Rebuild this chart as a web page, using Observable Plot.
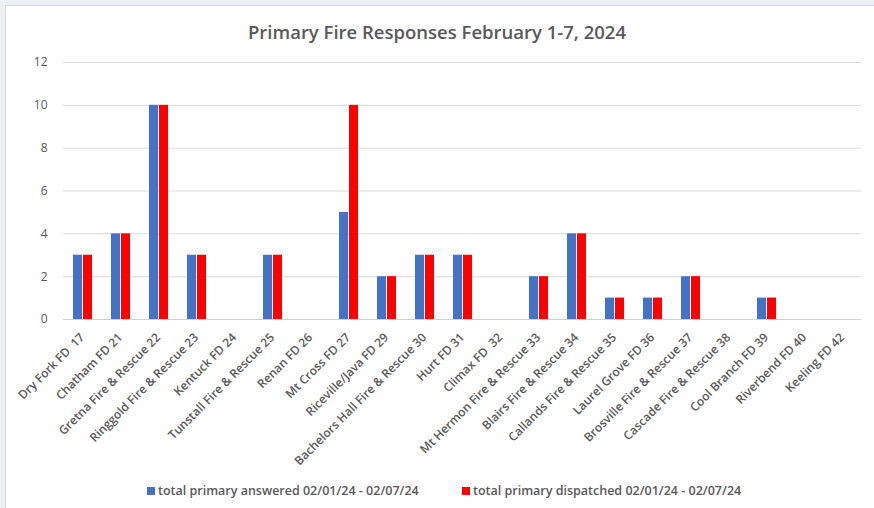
<!DOCTYPE html>
<html>
<head>
<meta charset="utf-8">
<script src="https://cdn.jsdelivr.net/npm/d3@7"></script>
<script src="https://cdn.jsdelivr.net/npm/@observablehq/plot@0.6"></script>
<style>
  html, body { margin: 0; padding: 0; background: #eceff3; }
  #wrap { position: relative; width: 874px; height: 508px; overflow: hidden; }
  #card { position: absolute; left: 5px; top: 5px; width: 869px; height: 503px; background: #fff; border-left: 1px solid #d6d9de; border-top: 1px solid #d6d9de; }
  #title { position: absolute; left: 0; top: 19px; width: 874px; text-align: center; font-family: "Open Sans", sans-serif; font-weight: 600; font-size: 18.5px; color: #595959; }
  #chart { position: absolute; left: 0; top: 0; }
  #legend { position: absolute; top: 482px; left: 0; width: 874px; font-family: "Open Sans", sans-serif; font-weight: 600; font-size: 12.5px; color: #595959; }
  .item { position: absolute; white-space: nowrap; }
  .sw { display: inline-block; width: 8px; height: 8px; margin-right: 3px; }
</style>
</head>
<body>
<div id="wrap">
  <div id="card"></div>
  <div id="chart"></div>
  <div id="title">Primary Fire Responses February 1-7, 2024</div>
  <div id="legend"></div>
</div>
<script>
const categories = [
  "Dry Fork FD  17", "Chatham FD 21", "Gretna Fire & Rescue 22", "Ringgold Fire & Rescue 23",
  "Kentuck FD 24", "Tunstall Fire & Rescue 25", "Renan FD 26", "Mt Cross FD 27",
  "Riceville/Java FD 29", "Bachelors Hall Fire & Rescue 30", "Hurt FD 31", "Climax FD  32",
  "Mt Hermon Fire & Rescue 33", "Blairs Fire & Rescue 34", "Callands Fire & Rescue 35",
  "Laurel Grove FD 36", "Brosville Fire & Rescue 37", "Cascade Fire & Rescue 38",
  "Cool Branch FD 39", "Riverbend FD 40", "Keeling FD 42"
];
const answered   = [3, 4, 10, 3, 0, 3, 0, 5, 2, 3, 3, 0, 2, 4, 1, 1, 2, 0, 1, 0, 0];
const dispatched = [3, 4, 10, 3, 0, 3, 0, 10, 2, 3, 3, 0, 2, 4, 1, 1, 2, 0, 1, 0, 0];
const seriesNames = ["total primary answered 02/01/24 - 02/07/24", "total primary dispatched 02/01/24 - 02/07/24"];
const seriesColors = ["#4472C4", "#FF0000"];
const yTicks = [0, 2, 4, 6, 8, 10, 12];

const data = [];
categories.forEach((c, i) => {
  data.push({cat: c, series: seriesNames[0], value: answered[i]});
  data.push({cat: c, series: seriesNames[1], value: dispatched[i]});
});

const chart = Plot.plot({
  width: 874,
  height: 508,
  marginTop: 62,
  marginBottom: 189,
  marginLeft: 62,
  marginRight: 12,
  style: {background: "transparent", fontFamily: "Open Sans, sans-serif", fontSize: "12px", color: "#595959"},
  fx: {domain: categories, padding: 0, label: null, axis: null},
  x: {domain: seriesNames, axis: null, paddingInner: 0.14, paddingOuter: 0.88},
  y: {domain: [0, 12], axis: null},
  color: {domain: seriesNames, range: seriesColors},
  marks: [
    Plot.ruleY(yTicks.filter(d => d > 0), {stroke: "#d9d9d9", strokeWidth: 1}),
    Plot.ruleY([0], {stroke: "#d0d0d0", strokeWidth: 1}),
    Plot.barY(data, {fx: "cat", x: "series", y: "value", fill: "series"}),
    Plot.axisFx({anchor: "bottom", tickRotate: -45, tickSize: 0, tickPadding: 6, dy: 10, dx: 0, label: null, fill: "#595959", fontSize: 12, fontWeight: 600}),
    Plot.axisY(yTicks, {facetAnchor: "left", anchor: "left", tickSize: 0, tickPadding: 16, label: null, fill: "#595959", fontSize: 12})
  ]
});
document.getElementById("chart").appendChild(chart);

const legend = document.getElementById("legend");
const lx = [147, 462];
seriesNames.forEach((s, i) => {
  const it = document.createElement("div");
  it.className = "item";
  it.style.left = lx[i] + "px";
  it.innerHTML = `<span class="sw" style="background:${seriesColors[i]}"></span>${s}`;
  legend.appendChild(it);
});
</script>
</body>
</html>
